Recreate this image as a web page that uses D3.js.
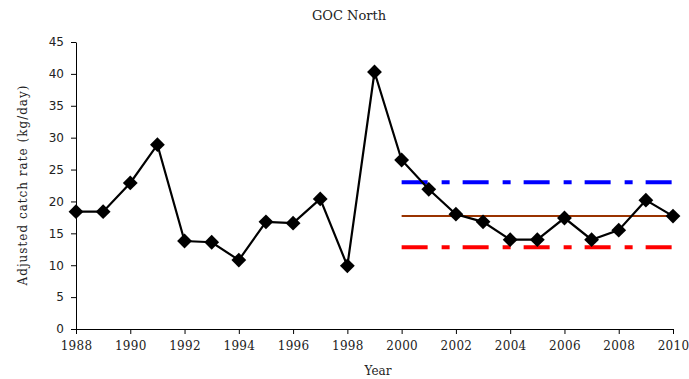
<!DOCTYPE html>
<html><head><meta charset="utf-8">
<script src="https://cdn.jsdelivr.net/npm/d3@7"></script>
<style>body{margin:0;background:#fff}svg{display:block}</style>
</head><body>
<script>
const years = [1988,1989,1990,1991,1992,1993,1994,1995,1996,1997,1998,1999,2000,2001,2002,2003,2004,2005,2006,2007,2008,2009,2010];
const catchRate = [18.4,18.4,22.9,28.9,13.8,13.6,10.8,16.8,16.6,20.4,9.9,40.3,26.5,21.9,18.0,16.8,14.0,14.0,17.4,14.0,15.5,20.2,17.7];
const refYears = [2000, 2010];
const upperLimit = 23.0;
const meanLevel = 17.7;
const lowerLimit = 12.8;
const xTicks = [1988,1990,1992,1994,1996,1998,2000,2002,2004,2006,2008,2010];
const yTicks = [0,5,10,15,20,25,30,35,40,45];

const W = 689, H = 379;
const svg = d3.select("body").append("svg").attr("width", W).attr("height", H);
const x = d3.scaleLinear().domain([1988, 2010]).range([76, 673]);
const y = d3.scaleLinear().domain([0, 45]).range([329, 42]);

// axes
const xAxis = svg.append("g").attr("transform", `translate(0,${y(0)})`)
  .call(d3.axisBottom(x).tickValues(xTicks).tickFormat(d3.format("d")).tickSize(5).tickSizeOuter(0));
const yAxis = svg.append("g").attr("transform", `translate(${x(1988)},0)`)
  .call(d3.axisLeft(y).tickValues(yTicks).tickSize(5).tickSizeOuter(0));
[xAxis, yAxis].forEach(g => {
  g.select(".domain").attr("stroke", "#000").attr("stroke-width", 1);
  g.selectAll(".tick line").attr("stroke", "#000");
});
xAxis.selectAll("text").attr("font-family", "DejaVu Serif").attr("font-size", 12).attr("fill", "#222").attr("dy", "1.05em").attr("letter-spacing", 0.3);
yAxis.selectAll("text").attr("font-family", "DejaVu Sans").attr("font-size", 12).attr("fill", "#222").attr("dx", "-4");

// reference lines
const refLine = (val, color, width, dash) => svg.append("line")
  .attr("x1", x(refYears[0])).attr("x2", x(refYears[1]))
  .attr("y1", y(val)).attr("y2", y(val))
  .attr("stroke", color).attr("stroke-width", width)
  .attr("stroke-dasharray", dash);
refLine(upperLimit, "#0000ff", 4, "26,14,8,13");
refLine(lowerLimit, "#ff0000", 4, "26,14,8,13");
refLine(meanLevel, "#993300", 2, null);

// series
const line = d3.line().x((d, i) => x(years[i])).y(d => y(d));
svg.append("path").datum(catchRate).attr("d", line)
  .attr("fill", "none").attr("stroke", "#000").attr("stroke-width", 2.2);
svg.selectAll(".pt").data(catchRate).enter().append("path")
  .attr("d", d3.symbol(d3.symbolDiamond2 || d3.symbolDiamond, 140)())
  .attr("transform", (d, i) => `translate(${x(years[i])},${y(d)})`)
  .attr("fill", "#000");

// texts
svg.append("text").attr("x", 349).attr("y", 20).attr("text-anchor", "middle")
  .attr("font-family", "DejaVu Serif").attr("font-size", 13).attr("fill", "#222").attr("letter-spacing", 0).text("GOC North");
svg.append("text").attr("x", 378).attr("y", 375).attr("text-anchor", "middle")
  .attr("font-family", "DejaVu Serif").attr("font-size", 12).attr("fill", "#222").text("Year");
svg.append("text").attr("transform", "translate(27,185) rotate(-90)").attr("text-anchor", "middle")
  .attr("font-family", "DejaVu Serif").attr("font-size", 12).attr("fill", "#222").attr("letter-spacing", 1).text("Adjusted catch rate (kg/day)");
</script>
</body></html>
